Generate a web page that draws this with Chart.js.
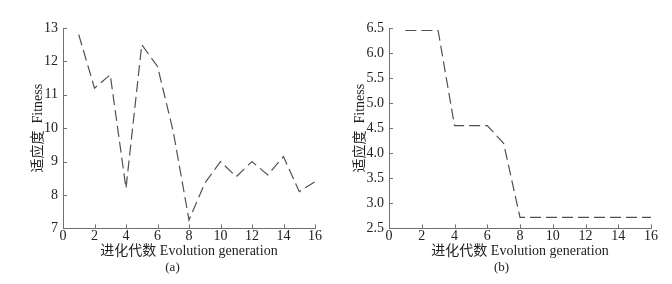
<!DOCTYPE html>
<html><head><meta charset="utf-8">
<script src="https://cdn.jsdelivr.net/npm/chart.js@4/dist/chart.umd.min.js"></script>
<style>
html,body{margin:0;padding:0;background:#fff;}
#wrap{width:672px;height:284px;display:flex;}
canvas{display:block;}
</style></head><body>
<div id="wrap"><canvas id="ca" width="336" height="284"></canvas><canvas id="cb" width="336" height="284"></canvas></div>
<script>
const generations = [1,2,3,4,5,6,7,8,9,10,11,12,13,14,15,16];
const fitnessA = [12.8,11.2,11.6,8.2,12.5,11.85,9.9,7.25,8.35,9.0,8.55,9.0,8.6,9.15,8.1,8.4];
const fitnessB = [6.45,6.45,6.45,4.55,4.55,4.55,4.2,2.72,2.72,2.72,2.72,2.72,2.72,2.72,2.72,2.72];
const xTicks = [0,2,4,6,8,10,12,14,16];
const yTicksA = [7,8,9,10,11,12,13];
const yTicksB = [2.5,3.0,3.5,4.0,4.5,5.0,5.5,6.0,6.5];
const xTitle = '进化代数 Evolution generation';
const yTitle = '适应度  Fitness';
const captions = ['(a)','(b)'];

const FONT = '"Liberation Serif", "Noto Sans CJK SC", serif';
const AXIS = '#707070';

const inwardTicks = {
  id:'inwardTicks',
  afterDraw(chart){
    const ctx = chart.ctx, a = chart.chartArea;
    const xs = chart.scales.x, ys = chart.scales.y;
    ctx.save();
    ctx.strokeStyle = AXIS; ctx.lineWidth = 1;
    ctx.beginPath();
    xs.ticks.forEach(t=>{const px=Math.round(xs.getPixelForValue(t.value))+0.5; ctx.moveTo(px,a.bottom); ctx.lineTo(px,a.bottom-4);});
    ys.ticks.forEach(t=>{const py=Math.round(ys.getPixelForValue(t.value))+0.5; ctx.moveTo(a.left,py); ctx.lineTo(a.left+4,py);});
    ctx.stroke();
    ctx.restore();
  }
};

function make(id, data, yTicks, padLeft, yAxisW, caption, decimals){
  new Chart(document.getElementById(id), {
    type:'line',
    data:{datasets:[{
      data: generations.map((g,i)=>({x:g,y:data[i]})),
      borderColor:'#505050', borderWidth:1.2, borderDash:[11,5],
      pointRadius:0, fill:false, tension:0
    }]},
    options:{
      responsive:false, animation:false,
      layout:{padding:{top:28,right:21,left:padLeft,bottom:0}},
      plugins:{legend:{display:false}, tooltip:{enabled:false},
        title:{display:true, text:caption, position:'bottom', color:'#222',
          font:{family:FONT,size:13,weight:'normal'}, padding:{top:0,bottom:9}}},
      scales:{
        x:{type:'linear', min:0, max:16,
          afterBuildTicks(s){s.ticks = xTicks.map(v=>({value:v}));},
          afterFit(s){s.height = 31;},
          grid:{display:false, drawTicks:false},
          border:{display:true,color:AXIS,width:1},
          ticks:{color:'#222', font:{family:FONT,size:14}, padding:0, maxRotation:0, autoSkip:false},
          title:{display:true, text:xTitle, color:'#222', font:{family:FONT,size:14}, padding:{top:0,bottom:0}}
        },
        y:{type:'linear', min:yTicks[0], max:yTicks[yTicks.length-1],
          afterBuildTicks(s){s.ticks = yTicks.map(v=>({value:v}));},
          afterFit(s){s.width = yAxisW;},
          grid:{display:false, drawTicks:false},
          border:{display:true,color:AXIS,width:1},
          ticks:{color:'#222', font:{family:FONT,size:14}, padding:5, autoSkip:false,
            callback:(v)=>v.toFixed(decimals)},
          title:{display:true, text:yTitle, color:'#222', font:{family:FONT,size:14}, padding:{top:0,bottom:0}}
        }
      }
    },
    plugins:[inwardTicks]
  });
}
make('ca', fitnessA, yTicksA, 30, 33, captions[0], 0);
make('cb', fitnessB, yTicksB, 16, 37, captions[1], 1);
</script>
</body></html>
